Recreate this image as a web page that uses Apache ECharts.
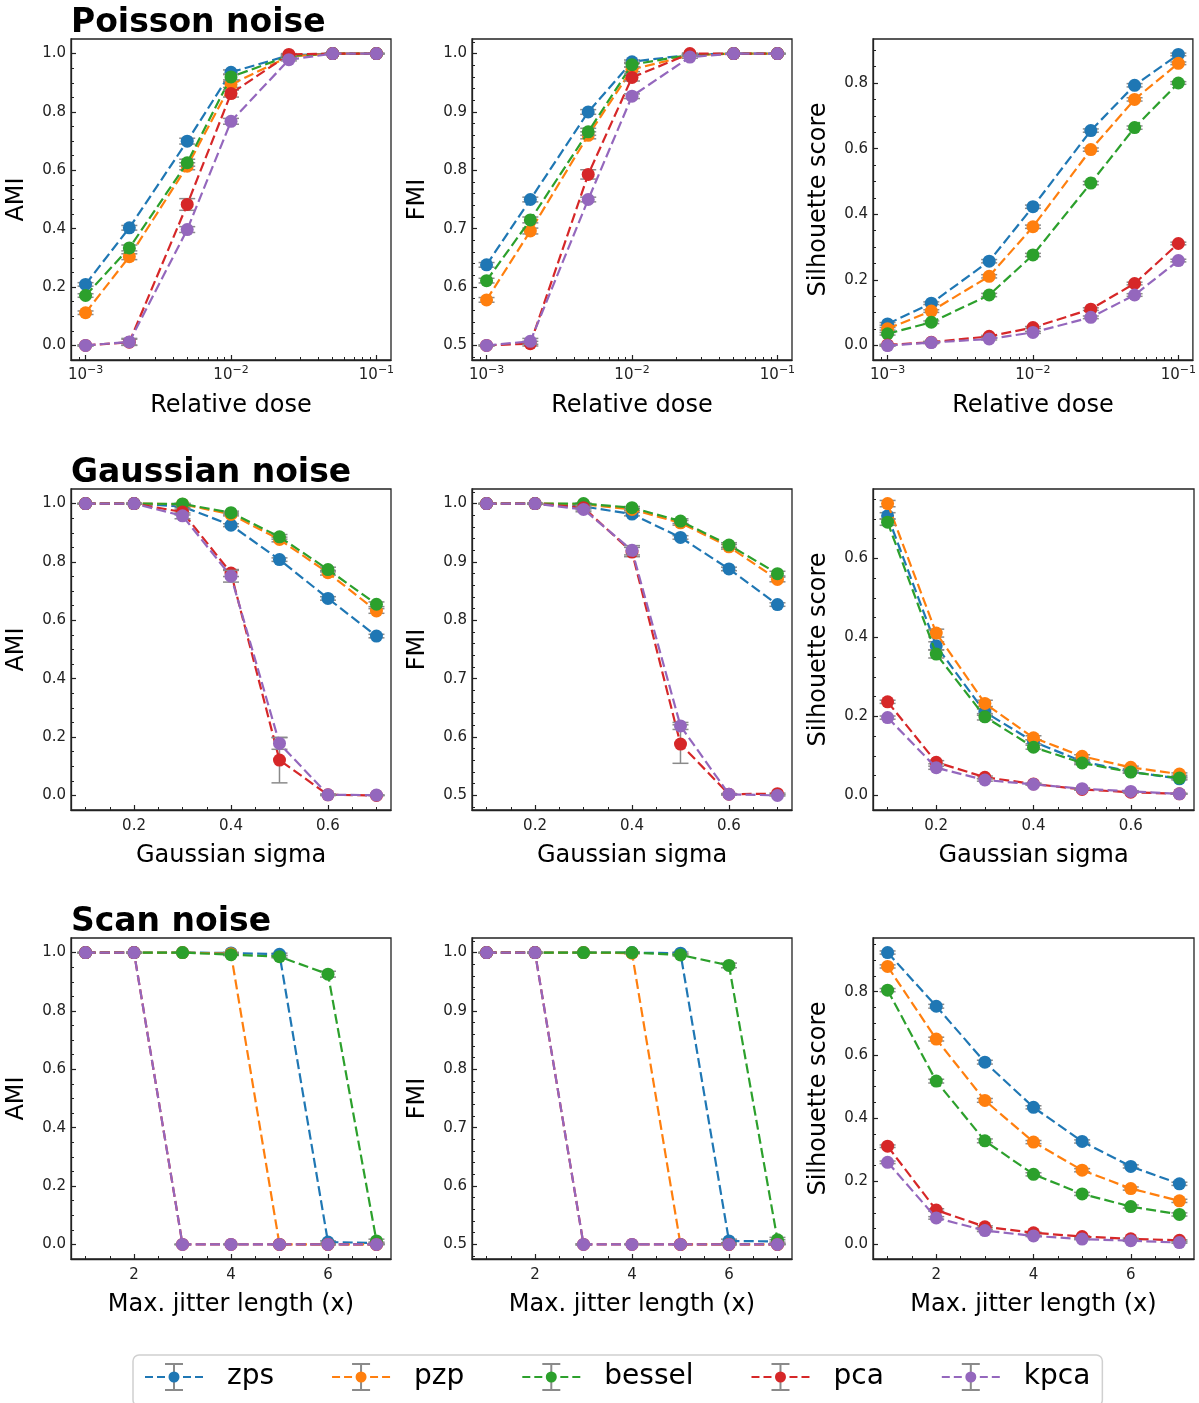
<!DOCTYPE html>
<html><head><meta charset="utf-8">
<script src="https://cdn.jsdelivr.net/npm/echarts@6/dist/echarts.min.js"></script>
<style>html,body{margin:0;padding:0;background:#fff}#c{width:1199px;height:1403px}</style>
</head><body><div id="c"></div>
<script>
const methods = ['zps','pzp','bessel','pca','kpca'];
const colors = ['#1f77b4','#ff7f0e','#2ca02c','#d62728','#9467bd'];

const doseX = [0.001,0.002,0.005,0.01,0.025,0.05,0.1];
const sigmaX = [0.1,0.2,0.3,0.4,0.5,0.6,0.7];
const jitterX = [1,2,3,4,5,6,7];

// rows: zps, pzp, bessel, pca, kpca
const poissonAMI = [
 [0.209,0.403,0.700,0.936,0.994,1.0,1.0],
 [0.112,0.304,0.614,0.894,0.990,1.0,1.0],
 [0.171,0.334,0.626,0.920,0.992,1.0,1.0],
 [0.000,0.011,0.483,0.863,0.997,1.0,1.0],
 [0.000,0.012,0.397,0.768,0.979,1.0,1.0]];
const poissonAMIErr = [
 [0.006,0.008,0.010,0.008,0.003,0.001,0.000],
 [0.006,0.010,0.012,0.010,0.004,0.001,0.000],
 [0.006,0.010,0.012,0.010,0.004,0.001,0.000],
 [0.002,0.010,0.020,0.012,0.003,0.001,0.000],
 [0.002,0.012,0.010,0.010,0.004,0.001,0.000]];

const poissonFMI = [
 [0.638,0.750,0.900,0.986,0.998,1.0,1.0],
 [0.578,0.696,0.860,0.973,0.997,1.0,1.0],
 [0.611,0.715,0.866,0.981,0.998,1.0,1.0],
 [0.500,0.503,0.793,0.959,1.000,1.0,1.0],
 [0.500,0.507,0.750,0.927,0.994,1.0,1.0]];
const poissonFMIErr = [
 [0.004,0.004,0.004,0.003,0.001,0.000,0.000],
 [0.004,0.005,0.006,0.004,0.001,0.000,0.000],
 [0.004,0.005,0.006,0.004,0.001,0.000,0.000],
 [0.001,0.004,0.008,0.006,0.001,0.000,0.000],
 [0.001,0.005,0.004,0.004,0.002,0.000,0.000]];

const poissonSil = [
 [0.066,0.129,0.257,0.423,0.655,0.793,0.887],
 [0.051,0.105,0.211,0.362,0.597,0.750,0.860],
 [0.036,0.071,0.154,0.276,0.495,0.664,0.800],
 [0.002,0.010,0.028,0.055,0.111,0.189,0.311],
 [0.000,0.009,0.020,0.040,0.086,0.154,0.259]];
const poissonSilErr = [
 [0.004,0.004,0.005,0.005,0.005,0.005,0.004],
 [0.004,0.004,0.005,0.005,0.005,0.005,0.004],
 [0.004,0.004,0.005,0.005,0.005,0.005,0.004],
 [0.002,0.003,0.003,0.003,0.004,0.004,0.004],
 [0.002,0.003,0.003,0.003,0.004,0.004,0.004]];

const gaussAMI = [
 [1.0,1.0,0.990,0.926,0.808,0.675,0.546],
 [1.0,1.0,0.998,0.963,0.877,0.763,0.632],
 [1.0,1.0,0.999,0.969,0.886,0.774,0.655],
 [1.0,1.0,0.971,0.762,0.121,0.002,0.000],
 [1.0,1.0,0.958,0.751,0.178,0.002,0.001]];
const gaussAMIErr = [
 [0.000,0.000,0.003,0.005,0.006,0.006,0.006],
 [0.000,0.000,0.002,0.005,0.008,0.008,0.008],
 [0.000,0.000,0.002,0.005,0.008,0.008,0.008],
 [0.000,0.000,0.010,0.012,0.078,0.002,0.001],
 [0.000,0.000,0.010,0.020,0.020,0.002,0.001]];

const gaussFMI = [
 [1.0,1.0,0.995,0.982,0.942,0.888,0.827],
 [1.0,1.0,0.999,0.990,0.967,0.926,0.870],
 [1.0,1.0,1.000,0.993,0.970,0.929,0.880],
 [1.0,1.0,0.993,0.917,0.588,0.502,0.503],
 [1.0,1.0,0.990,0.920,0.619,0.502,0.500]];
const gaussFMIErr = [
 [0.000,0.000,0.002,0.003,0.003,0.003,0.003],
 [0.000,0.000,0.001,0.002,0.004,0.004,0.004],
 [0.000,0.000,0.001,0.002,0.004,0.004,0.004],
 [0.000,0.000,0.004,0.008,0.033,0.001,0.001],
 [0.000,0.000,0.004,0.008,0.006,0.001,0.001]];

const gaussSil = [
 [0.708,0.379,0.211,0.136,0.086,0.060,0.042],
 [0.739,0.411,0.233,0.146,0.099,0.071,0.054],
 [0.692,0.358,0.199,0.122,0.082,0.059,0.044],
 [0.237,0.084,0.046,0.029,0.015,0.008,0.004],
 [0.197,0.070,0.039,0.028,0.017,0.010,0.004]];
const gaussSilErr = [
 [0.008,0.010,0.008,0.005,0.004,0.003,0.003],
 [0.008,0.010,0.008,0.005,0.004,0.003,0.003],
 [0.008,0.010,0.008,0.005,0.004,0.003,0.003],
 [0.004,0.004,0.003,0.002,0.002,0.002,0.001],
 [0.004,0.004,0.003,0.002,0.002,0.002,0.001]];

const scanAMI = [
 [1.0,1.0,1.0,0.999,0.994,0.008,0.005],
 [1.0,1.0,1.0,0.996,0.000,0.000,0.000],
 [1.0,1.0,1.0,0.993,0.986,0.926,0.012],
 [1.0,1.0,0.000,0.000,0.000,0.000,0.000],
 [1.0,1.0,0.000,0.000,0.000,0.000,0.000]];
const scanAMIErr = [
 [0.000,0.000,0.000,0.002,0.004,0.004,0.003],
 [0.000,0.000,0.000,0.003,0.000,0.000,0.000],
 [0.000,0.000,0.000,0.003,0.004,0.010,0.006],
 [0.000,0.000,0.001,0.000,0.000,0.000,0.000],
 [0.000,0.000,0.001,0.000,0.000,0.000,0.000]];

const scanFMI = [
 [1.0,1.0,1.0,1.000,0.999,0.506,0.505],
 [1.0,1.0,1.0,0.999,0.500,0.500,0.500],
 [1.0,1.0,1.0,1.000,0.996,0.978,0.508],
 [1.0,1.0,0.500,0.500,0.500,0.500,0.500],
 [1.0,1.0,0.500,0.500,0.500,0.500,0.500]];
const scanFMIErr = [
 [0.000,0.000,0.000,0.001,0.002,0.003,0.003],
 [0.000,0.000,0.000,0.001,0.000,0.000,0.000],
 [0.000,0.000,0.000,0.001,0.002,0.004,0.004],
 [0.000,0.000,0.001,0.000,0.000,0.000,0.000],
 [0.000,0.000,0.001,0.000,0.000,0.000,0.000]];

const scanSil = [
 [0.924,0.754,0.577,0.434,0.326,0.247,0.192],
 [0.880,0.650,0.456,0.324,0.235,0.177,0.138],
 [0.805,0.517,0.328,0.222,0.160,0.120,0.095],
 [0.311,0.109,0.056,0.037,0.025,0.018,0.013],
 [0.260,0.084,0.044,0.027,0.017,0.012,0.006]];
const scanSilErr = [
 [0.005,0.006,0.006,0.005,0.005,0.005,0.005],
 [0.005,0.006,0.006,0.005,0.005,0.005,0.005],
 [0.005,0.006,0.006,0.005,0.005,0.005,0.005],
 [0.004,0.004,0.003,0.002,0.002,0.002,0.002],
 [0.004,0.004,0.003,0.002,0.002,0.002,0.002]];

// tick values
const logMajor = [0.001,0.01,0.1];
const logMinor = [0.0008,0.0009,0.002,0.003,0.004,0.005,0.006,0.007,0.008,0.009,0.02,0.03,0.04,0.05,0.06,0.07,0.08,0.09];
const sigmaMajor = [0.2,0.4,0.6];
const sigmaMinor = [0.1,0.15,0.25,0.3,0.35,0.45,0.5,0.55,0.65,0.7];
const jitterMajor = [2,4,6];
const jitterMinor = [1,1.5,2.5,3,3.5,4.5,5,5.5,6.5,7];
const amiMajor = [0,0.2,0.4,0.6,0.8,1.0];
const amiMinor = [0.05,0.1,0.15,0.25,0.3,0.35,0.45,0.5,0.55,0.65,0.7,0.75,0.85,0.9,0.95];
const fmiMajor = [0.5,0.6,0.7,0.8,0.9,1.0];
const fmiMinor = [0.48,0.52,0.54,0.56,0.58,0.62,0.64,0.66,0.68,0.72,0.74,0.76,0.78,0.82,0.84,0.86,0.88,0.92,0.94,0.96,0.98,1.02];
const silMajor = [0,0.2,0.4,0.6,0.8];
const silMinor = [0.05,0.1,0.15,0.25,0.3,0.35,0.45,0.5,0.55,0.65,0.7,0.75,0.85,0.9,0.95];

const FONT = 'DejaVu Sans';
const colLeft = [71,472,873], colW = [320,320,321];
const rowTop = [39,489,938], rowH = 321;

const xSpecs = [
 {x: doseX, type:'log', min: Math.pow(10,-3.1), max: Math.pow(10,-0.9), major: logMajor, minor: logMinor, name:'Relative dose'},
 {x: sigmaX, type:'value', min:0.07, max:0.73, major: sigmaMajor, minor: sigmaMinor, name:'Gaussian sigma'},
 {x: jitterX, type:'value', min:0.7, max:7.3, major: jitterMajor, minor: jitterMinor, name:'Max. jitter length (x)'}
];
const panels = [
 [ {v:poissonAMI,e:poissonAMIErr,y:'AMI',min:-0.05,max:1.05,maj:amiMajor,mn:amiMinor},
   {v:poissonFMI,e:poissonFMIErr,y:'FMI',min:0.475,max:1.025,maj:fmiMajor,mn:fmiMinor},
   {v:poissonSil,e:poissonSilErr,y:'Silhouette score',min:-0.044,max:0.934,maj:silMajor,mn:silMinor} ],
 [ {v:gaussAMI,e:gaussAMIErr,y:'AMI',min:-0.05,max:1.05,maj:amiMajor,mn:amiMinor},
   {v:gaussFMI,e:gaussFMIErr,y:'FMI',min:0.475,max:1.025,maj:fmiMajor,mn:fmiMinor},
   {v:gaussSil,e:gaussSilErr,y:'Silhouette score',min:-0.037,max:0.776,maj:silMajor,mn:silMinor} ],
 [ {v:scanAMI,e:scanAMIErr,y:'AMI',min:-0.05,max:1.05,maj:amiMajor,mn:amiMinor},
   {v:scanFMI,e:scanFMIErr,y:'FMI',min:0.475,max:1.025,maj:fmiMajor,mn:fmiMinor},
   {v:scanSil,e:scanSilErr,y:'Silhouette score',min:-0.046,max:0.97,maj:silMajor,mn:silMinor} ]
];
const titles = ['Poisson noise','Gaussian noise','Scan noise'];

function logFmt(v){ const e = Math.round(Math.log10(v)); return '{b|10}{s|' + (e < 0 ? '\u2212' : '') + Math.abs(e) + '}'; }

function renderErr(params, api){
  const x = api.value(0), lo = api.value(1), hi = api.value(2);
  const p1 = api.coord([x, lo]), p2 = api.coord([x, hi]);
  const hw = 8;
  const style = {stroke:'#8a8a8a', lineWidth:1.5};
  return {type:'group', children:[
    {type:'line', shape:{x1:p1[0],y1:p1[1],x2:p2[0],y2:p2[1]}, style},
    {type:'line', shape:{x1:p1[0]-hw,y1:p1[1],x2:p1[0]+hw,y2:p1[1]}, style},
    {type:'line', shape:{x1:p2[0]-hw,y1:p2[1],x2:p2[0]+hw,y2:p2[1]}, style}
  ]};
}

const grid = [], xAxis = [], yAxis = [], series = [], title = [];
const tickColor = '#222';
let g = 0;
for (let r = 0; r < 3; r++) {
  title.push({text: titles[r], left: colLeft[0], top: rowTop[r] - 32, padding: 0,
    textStyle: {fontFamily: FONT, fontSize: 33, fontWeight: 'bold', color: '#000'}});
  const xs = xSpecs[r];
  for (let c = 0; c < 3; c++) {
    const p = panels[r][c];
    grid.push({left: colLeft[c], top: rowTop[r], width: colW[c], height: rowH, show: true,
      borderColor: tickColor, borderWidth: 1.3, backgroundColor: 'transparent'});
    const isLog = xs.type === 'log';
    xAxis.push({type: xs.type, gridIndex: g, min: xs.min, max: xs.max, position: 'bottom',
      logBase: 10,
      axisLine: {show: true, onZero: false, lineStyle: {color: tickColor, width: 1.3}},
      axisTick: {show: true, inside: true, length: 5, lineStyle: {color: tickColor, width: 1.2}, customValues: xs.major},
      axisLabel: {customValues: xs.major, margin: isLog ? 5 : 9, fontFamily: FONT, fontSize: 15, color: tickColor,
        formatter: isLog ? logFmt : (v => (r === 2 ? String(Math.round(v)) : v.toFixed(1))),
        rich: {b: {fontFamily: FONT, fontSize: 15, color: tickColor},
               s: {fontFamily: FONT, fontSize: 11, color: tickColor, padding: [0, 0, 9, 0]}}},
      splitLine: {show: false}, minorTick: {show: false},
      name: xs.name, nameLocation: 'middle', nameGap: 34,
      nameTextStyle: {fontFamily: FONT, fontSize: 24, color: '#000'}});
    xAxis.push({type: xs.type, gridIndex: g, min: xs.min, max: xs.max, position: 'bottom', logBase: 10,
      axisLine: {show: false, onZero: false}, axisLabel: {show: false}, splitLine: {show: false},
      axisTick: {show: true, inside: true, length: 3, lineStyle: {color: tickColor, width: 1}, customValues: xs.minor}});
    yAxis.push({type: 'value', gridIndex: g, min: p.min, max: p.max, position: 'left',
      axisLine: {show: true, onZero: false, lineStyle: {color: tickColor, width: 1.3}},
      axisTick: {show: true, inside: true, length: 5, lineStyle: {color: tickColor, width: 1.2}, customValues: p.maj},
      axisLabel: {customValues: p.maj, margin: 5, fontFamily: FONT, fontSize: 15, color: tickColor, formatter: v => v.toFixed(1)},
      splitLine: {show: false},
      name: p.y, nameLocation: 'middle', nameGap: 42,
      nameTextStyle: {fontFamily: FONT, fontSize: 24, color: '#000'}});
    yAxis.push({type: 'value', gridIndex: g, min: p.min, max: p.max, position: 'left',
      axisLine: {show: false, onZero: false}, axisLabel: {show: false}, splitLine: {show: false},
      axisTick: {show: true, inside: true, length: 3, lineStyle: {color: tickColor, width: 1}, customValues: p.mn}});
    for (let m = 0; m < 5; m++) {
      series.push({type: 'line', name: methods[m], xAxisIndex: 2*g, yAxisIndex: 2*g, z: 3 + 2*m,
        data: xs.x.map((x, j) => [x, p.v[m][j]]),
        symbol: 'circle', symbolSize: 13, showSymbol: true,
        lineStyle: {color: colors[m], width: 2.2, type: [10, 4.3]},
        itemStyle: {color: colors[m]}, emphasis: {disabled: true}, animation: false});
      series.push({type: 'custom', name: methods[m], xAxisIndex: 2*g, yAxisIndex: 2*g, z: 2 + 2*m,
        data: xs.x.map((x, j) => [x, p.v[m][j] - p.e[m][j], p.v[m][j] + p.e[m][j]]),
        encode: {x: 0, y: [1, 2]}, renderItem: renderErr, silent: true, animation: false});
    }
    g++;
  }
}

// icon box 77 x 30: visible handle within 0..58, blank space to the right; corner specks fix the bounding box
const specks = ' M0 0h0.01v0.01h-0.01z M76.99 29.99h0.01v0.01h-0.01z';
const lineIcon = 'path://M0 14h8v2h-8z M12 14h8v2h-8z M38 14h8v2h-8z M50 14h8v2h-8z M23.5 15a5.5 5.5 0 1 0 11 0a5.5 5.5 0 1 0 -11 0z' + specks;
const barIcon = 'path://M28 1h2v28h-2z M20 1h18v2h-18z M20 27h18v2h-18z' + specks;
const legendBase = {left: 133, top: 1355, orient: 'horizontal', itemWidth: 77, itemHeight: 30, itemGap: 58,
  padding: [7, 12, 14, 12], selectedMode: false};
const legend = [
  Object.assign({}, legendBase, {z: 1, borderColor: '#d0d0d0', borderWidth: 1.5, borderRadius: 6, backgroundColor: '#fff',
    textStyle: {fontFamily: FONT, fontSize: 28, color: 'rgba(255,255,255,0)'},
    data: methods.map(n => ({name: n, icon: barIcon, itemStyle: {color: '#8a8a8a'}}))}),
  Object.assign({}, legendBase, {z: 2, textStyle: {fontFamily: FONT, fontSize: 28, color: '#000'},
    data: methods.map((n, i) => ({name: n, icon: lineIcon, itemStyle: {color: colors[i]}}))})
];

const chart = echarts.init(document.getElementById('c'), null, {renderer: 'canvas'});
chart.setOption({animation: false, backgroundColor: '#fff', title, grid, xAxis, yAxis, series, legend});
</script></body></html>
